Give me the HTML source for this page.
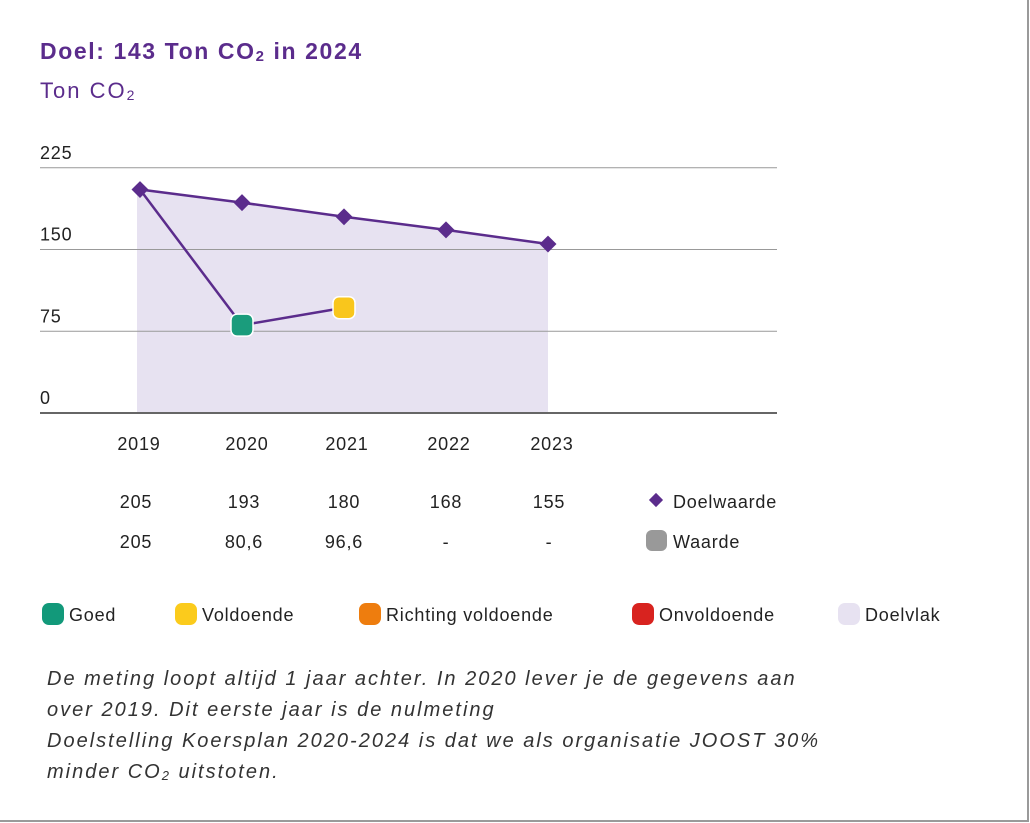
<!DOCTYPE html>
<html><head><meta charset="utf-8">
<style>
html,body{margin:0;padding:0;background:#fff;}
body{width:1030px;height:823px;position:relative;overflow:hidden;font-family:"Liberation Sans",sans-serif;}
#frame{position:absolute;left:0;top:0;width:1027px;height:820px;border-right:2px solid #9a9a9a;border-bottom:2px solid #9a9a9a;}
.t{position:absolute;white-space:nowrap;}
svg text{letter-spacing:0.8px;}
</style></head>
<body>
<div id="frame"></div>
<div class="t" style="left:40px;top:38px;font-size:23px;font-weight:bold;color:#5b2c8c;letter-spacing:1.6px;">Doel: 143 Ton CO<sub style="font-size:15px;vertical-align:-2px">2</sub> in 2024</div>
<div class="t" style="left:40px;top:78px;font-size:22px;color:#5b2c8c;letter-spacing:2px;">Ton CO<sub style="font-size:14px;vertical-align:-2px">2</sub></div>
<svg id="chart" width="1030" height="823" style="position:absolute;left:0;top:0"></svg>
<div class="t" style="left:47px;top:664px;font-size:20px;font-style:italic;color:#333;line-height:31px;letter-spacing:2px;">De meting loopt altijd 1 jaar achter. In 2020 lever je de gegevens aan<br>over 2019. Dit eerste jaar is de nulmeting<br>Doelstelling Koersplan 2020-2024 is dat we als organisatie JOOST 30%<br>minder CO<sub style="font-size:13px;vertical-align:-2px">2</sub> uitstoten.</div>
<script>
const years=["2019","2020","2021","2022","2023"];
const doelwaarde=[205,193,180,168,155];
const waarde=[205,80.6,96.6,null,null];
const doelLabels=["205","193","180","168","155"];
const waardeLabels=["205","80,6","96,6","-","-"];
const yTicks=[0,75,150,225];
const statusColors=["#1a9c7c","#f9c61c"];
const legendItems=[["Goed","#12997a"],["Voldoende","#fbcb1c"],["Richting voldoende","#ee7d0e"],["Onvoldoende","#d8231f"],["Doelvlak","#e7e2f1"]];

const NS="http://www.w3.org/2000/svg";
const svg=document.getElementById('chart');
const x=i=>140+i*102;
const y=v=>413-v*1.09;
function mk(tag,attrs,parent){const e=document.createElementNS(NS,tag);for(const k in attrs)e.setAttribute(k,attrs[k]);(parent||svg).appendChild(e);return e;}
// area
const areaPts=[(x(0)-3)+","+y(0),(x(0)-3)+","+y(doelwaarde[0])].concat(doelwaarde.map((v,i)=>x(i)+","+y(v))).concat([x(doelwaarde.length-1)+","+y(0)]);
const area=mk('polygon',{points:areaPts.join(" "),fill:"#e7e2f1"});


// gridlines
yTicks.forEach(t=>{
  const l=mk('line',{x1:40,x2:777,y1:y(t),y2:y(t),stroke:t==0?"#666":"#999","stroke-width":t==0?2:1});
  
  
  const tx=mk('text',{x:40,y:y(t)-9,"font-size":18,fill:"#222"});tx.textContent=t;
  
  
});
// lines
const dl=mk('polyline',{points:doelwaarde.map((v,i)=>x(i)+","+y(v)).join(" "),fill:"none",stroke:"#5b2c8c","stroke-width":2.5});


const wv=waarde.map((v,i)=>v==null?null:x(i)+","+y(v)).filter(p=>p);
const wl=mk('polyline',{points:wv.join(" "),fill:"none",stroke:"#5b2c8c","stroke-width":2.5});


doelwaarde.forEach((v,i)=>{
  const d=mk('rect',{x:x(i)-6,y:y(v)-6,width:12,height:12,fill:"#5b2c8c",transform:`rotate(45 ${x(i)} ${y(v)})`});
  
  
});
waarde.forEach((v,i)=>{
  if(v==null||i==0)return;
  const r=mk('rect',{x:x(i)-11,y:y(v)-11,width:22,height:22,rx:6,fill:statusColors[i-1],stroke:"#fff","stroke-width":1.5});
  
  
});
// table
years.forEach((yr,i)=>{
  const cx=x(i)+[1,7,5,5,6][i]-2;
  const a=mk('text',{x:cx,y:450,"font-size":18,fill:"#222","text-anchor":"middle"});a.textContent=yr;
  
  
  const b=mk('text',{x:cx-3,y:508,"font-size":18,fill:"#222","text-anchor":"middle"});b.textContent=doelLabels[i];
  
  
  const c=mk('text',{x:cx-3,y:548,"font-size":18,fill:"#222","text-anchor":"middle"});c.textContent=waardeLabels[i];
  
  
});
const sd=mk('rect',{x:651,y:495,width:10,height:10,fill:"#5b2c8c",transform:"rotate(45 656 500)"});


const st=mk('text',{x:673,y:508,"font-size":18,fill:"#222"});st.textContent="Doelwaarde";


const sw=mk('rect',{x:646,y:530,width:21,height:21,rx:6,fill:"#999"});


const st2=mk('text',{x:673,y:548,"font-size":18,fill:"#222"});st2.textContent="Waarde";


// legend
const lx=[42,175,359,632,838];
legendItems.forEach((it,i)=>{
  const r=mk('rect',{x:lx[i],y:603,width:22,height:22,rx:7,fill:it[1]});
  
  
  const t=mk('text',{x:lx[i]+27,y:621,"font-size":18,fill:"#222"});t.textContent=it[0];
  
  
});
</script>
</body></html>
